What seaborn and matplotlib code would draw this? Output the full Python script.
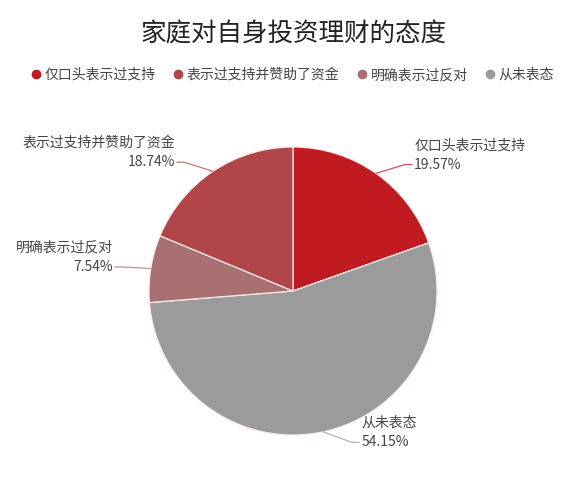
import numpy as np
import seaborn as sns
import matplotlib.pyplot as plt
from matplotlib.lines import Line2D

# Chart data
categories = ['仅口头表示过支持', '从未表态', '明确表示过反对', '表示过支持并赞助了资金']
shares = [19.57, 54.15, 7.54, 18.74]
legend_order = ['仅口头表示过支持', '表示过支持并赞助了资金', '明确表示过反对', '从未表态']
colors = {'仅口头表示过支持': '#C01B20', '表示过支持并赞助了资金': '#B0464A',
          '明确表示过反对': '#A87071', '从未表态': '#9B9B9B'}

sns.set_theme(style='white')
plt.rcParams['font.family'] = ['Noto Sans CJK SC', 'DejaVu Sans']

W, H = 586, 500
R = 144.0
cx, cy = 293, 291

fig = plt.figure(figsize=(W / 100, H / 100), dpi=100)
ax = fig.add_axes([0, 0, 1, 1])
ax.axis('off')

wedges, _ = ax.pie(shares, colors=[colors[c] for c in categories], startangle=90,
                   counterclock=False, radius=1, center=(0, 0),
                   wedgeprops=dict(edgecolor='#FBEAEA', linewidth=0.9))

# pie() resets the limits, so set them afterwards
ax.set_aspect('auto')
ax.set_xlim(-cx / R, (W - cx) / R)
ax.set_ylim(-(H - cy) / R, cy / R)

# leader lines + labels
for w, name, val in zip(wedges, categories, shares):
    mid = np.deg2rad((w.theta1 + w.theta2) / 2)
    x0, y0 = np.cos(mid), np.sin(mid)
    side = 1 if x0 >= 0 else -1
    x1, y1 = x0 + side * 0.20, y0 + 0.075 * y0
    x2 = x1 + side * 0.05
    lc = colors[name]
    ax.plot([x0, x1, x2], [y0, y1, y1], color=lc, lw=0.9, alpha=0.75)
    ha = 'left' if side > 0 else 'right'
    tx = x2 + side * 0.015
    ax.text(tx, y1, f'{val:.2f}%', ha=ha, va='center', fontsize=10, color='#444444')
    ax.text(tx, y1 + 0.135, name, ha=ha, va='center', fontsize=10, color='#444444')

fig.text(0.5, 1 - 35 / H, '家庭对自身投资理财的态度', ha='center', va='center',
         fontsize=18.4, color='#222222')

handles = [Line2D([0], [0], marker='o', linestyle='', markersize=6,
                  markerfacecolor=colors[c], markeredgecolor=colors[c]) for c in legend_order]
fig.legend(handles, legend_order, loc='center', bbox_to_anchor=(0.5, 1 - 75 / H),
           ncol=4, frameon=False, fontsize=10, handlelength=0.6, handletextpad=0.3,
           columnspacing=1.35, labelcolor='#444444')

fig.savefig('out.png', dpi=100, facecolor='white')
